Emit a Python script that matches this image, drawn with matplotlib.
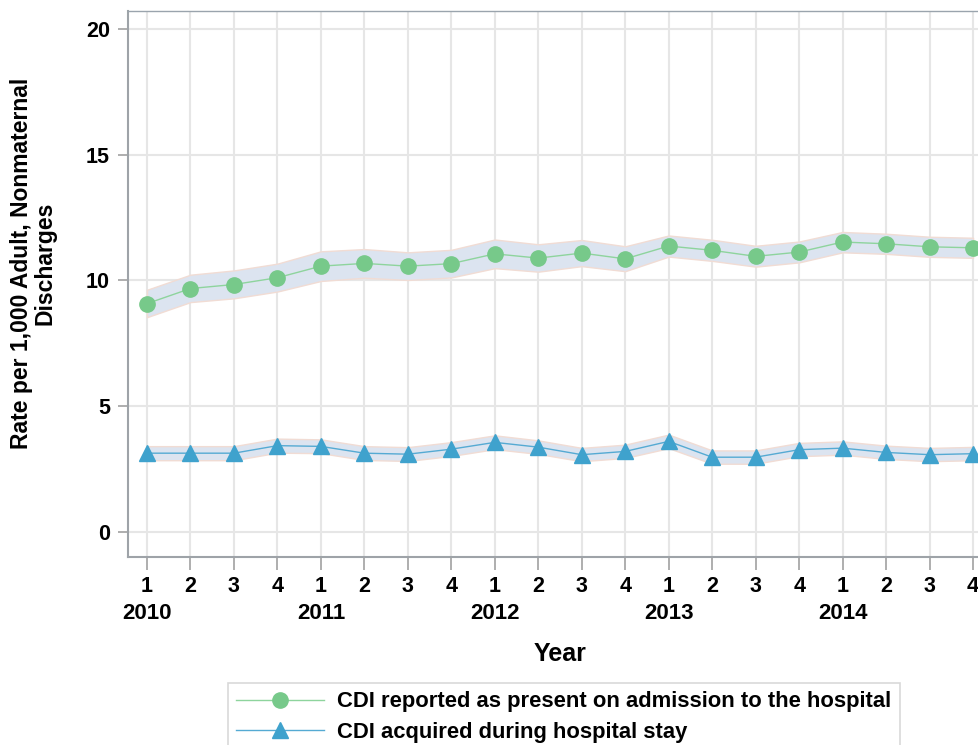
import numpy as np
import matplotlib
matplotlib.use('Agg')
import matplotlib.pyplot as plt
import matplotlib.transforms as mtransforms

# Dados (taxa por 1.000 altas), trimestres 2010-2014
years = ['2010', '2011', '2012', '2013', '2014']
quarters = ['1', '2', '3', '4']

poa = [9.08, 9.68, 9.84, 10.11, 10.57, 10.68, 10.57, 10.67, 11.06, 10.89,
       11.09, 10.86, 11.37, 11.20, 10.96, 11.13, 11.53, 11.46, 11.34, 11.30]
poa_lo = [8.54, 9.14, 9.29, 9.56, 9.98, 10.11, 10.02, 10.12, 10.49, 10.35,
          10.57, 10.37, 10.95, 10.78, 10.55, 10.72, 11.12, 11.06, 10.94, 10.90]
poa_hi = [9.63, 10.23, 10.40, 10.67, 11.16, 11.25, 11.12, 11.22, 11.63, 11.44,
          11.61, 11.36, 11.79, 11.62, 11.38, 11.55, 11.93, 11.86, 11.74, 11.70]

hosp = [3.13, 3.13, 3.13, 3.43, 3.40, 3.13, 3.09, 3.29, 3.56, 3.37,
        3.07, 3.20, 3.60, 2.97, 2.97, 3.27, 3.33, 3.16, 3.07, 3.11]
hosp_lo = [2.85, 2.85, 2.85, 3.15, 3.13, 2.86, 2.82, 3.02, 3.29, 3.10,
           2.81, 2.94, 3.33, 2.71, 2.71, 3.01, 3.07, 2.90, 2.81, 2.85]
hosp_hi = [3.41, 3.41, 3.41, 3.71, 3.68, 3.41, 3.37, 3.57, 3.84, 3.64,
           3.34, 3.47, 3.87, 3.24, 3.24, 3.54, 3.60, 3.43, 3.34, 3.38]

labels = ['CDI reported as present on admission to the hospital',
          'CDI acquired during hospital stay']

plt.rcParams['font.family'] = ['Liberation Sans', 'DejaVu Sans']
plt.rcParams['font.weight'] = 'bold'

fig = plt.figure(figsize=(9.79, 7.45), dpi=100)
ax = fig.add_axes([128 / 979, 188 / 745, 862 / 979, 546 / 745])

x = np.arange(len(poa))

# Faixas de intervalo de confiança
band = '#dce4f0'
band_edge = '#f1dcd4'
ax.fill_between(x, poa_lo, poa_hi, facecolor=band, edgecolor=band_edge, lw=1, zorder=2)
ax.fill_between(x, hosp_lo, hosp_hi, facecolor=band, edgecolor=band_edge, lw=1, zorder=2)

# Séries
ax.plot(x, poa, color='#8ed49d', lw=1.0, marker='o', ms=11,
        mfc='#77c98a', mec='#77c98a', label=labels[0], zorder=3)
ax.plot(x, hosp, color='#55aad3', lw=1.0, marker='^', ms=11.5,
        mfc='#3fa2cd', mec='#3fa2cd', label=labels[1], zorder=3)

# Eixos
ax.set_xlim(-0.437, 19.39)
ax.set_ylim(-1.0, 20.72)
ax.set_yticks([0, 5, 10, 15, 20])
ax.set_xticks(x)
ax.set_xticklabels(quarters * len(years))

ax.grid(True, color='#e6e6e6', lw=1.5, zorder=0)
ax.set_axisbelow(True)

for side in ['left', 'bottom']:
    ax.spines[side].set_color('#9ea3a8')
    ax.spines[side].set_linewidth(1.5)
ax.spines['top'].set_color('#9aa4ad')
ax.spines['top'].set_linewidth(1.0)
ax.spines['right'].set_visible(False)

ax.tick_params(axis='x', length=9, width=1.3, color='#a8a8a8', pad=4.5, labelsize=15.5)
ax.tick_params(axis='y', length=7.5, width=1.3, color='#a8a8a8', pad=5.5, labelsize=15.5)

# Rótulos dos anos abaixo dos trimestres
trans = mtransforms.blended_transform_factory(ax.transData, ax.transAxes)
for i, yr in enumerate(years):
    ax.text(i * 4, -0.1026, yr, transform=trans, ha='center', va='center',
            fontsize=16, fontweight='bold')

ax.set_xlabel('Year', fontsize=18, fontweight='bold')
ax.xaxis.set_label_coords(0.501, -0.155)
ax.set_ylabel('Rate per 1,000 Adult, Nonmaternal\nDischarges', fontsize=16.5,
              fontweight='bold', linespacing=1.05)
ax.yaxis.set_label_coords(-0.083, 0.538)

# Legenda
leg = fig.legend(loc='upper left', bbox_to_anchor=(228 / 979, 62 / 745),
                 frameon=True, fancybox=False, fontsize=15.8, handlelength=4.0,
                 borderpad=0.38, labelspacing=0.43, handletextpad=0.6,
                 borderaxespad=0.0)
leg.get_frame().set_edgecolor('#cfcfcf')
leg.get_frame().set_linewidth(1.2)

fig.savefig('out.png', dpi=100)
